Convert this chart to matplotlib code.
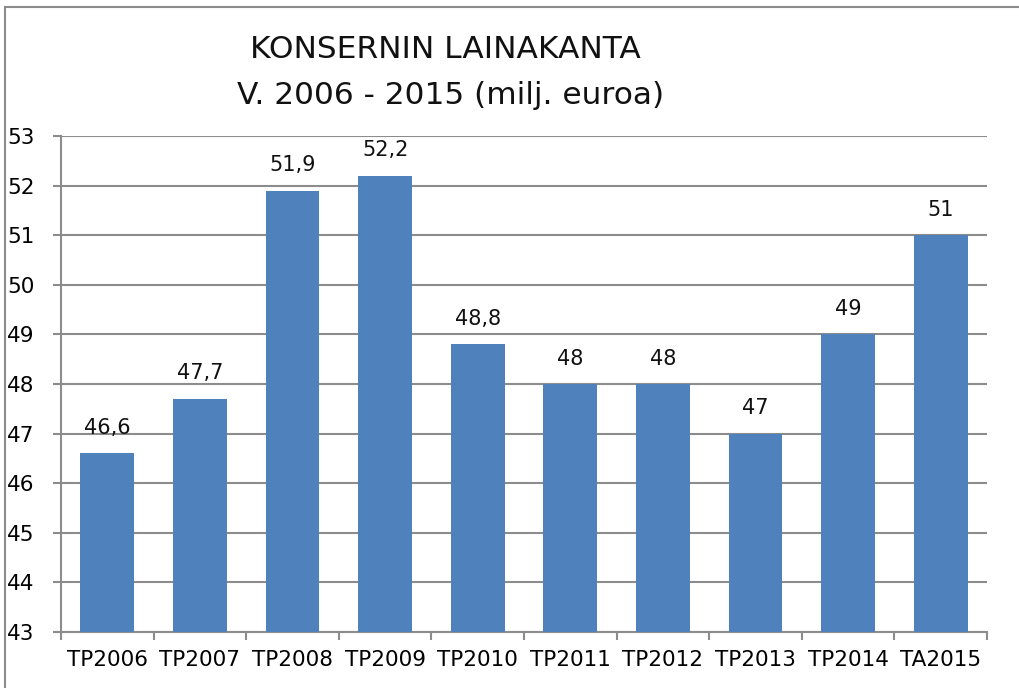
import matplotlib.pyplot as plt
from matplotlib.patches import Rectangle
from matplotlib.ticker import MultipleLocator, FixedLocator

# Data
categories = ['TP2006', 'TP2007', 'TP2008', 'TP2009', 'TP2010',
              'TP2011', 'TP2012', 'TP2013', 'TP2014', 'TA2015']
values = [46.6, 47.7, 51.9, 52.2, 48.8, 48, 48, 47, 49, 51]
labels = ['46,6', '47,7', '51,9', '52,2', '48,8', '48', '48', '47', '49', '51']

fig = plt.figure(figsize=(10.19, 6.88), dpi=100)
ax = fig.add_axes([61 / 1019, 1 - 632 / 688, (987 - 61) / 1019, (632 - 136) / 688])

grey = '#8c8c8c'
x = range(len(categories))
ax.bar(x, [v - 43 for v in values], bottom=43, width=0.58, color='#4F81BD', zorder=3)

for i, (v, lab) in enumerate(zip(values, labels)):
    ax.annotate(lab, (i, v), xytext=(0, 14), textcoords='offset points',
                ha='center', va='baseline', fontsize=15, color='#111111')

ax.set_ylim(43, 53)
ax.set_xlim(-0.5, len(categories) - 0.5)
ax.yaxis.set_major_locator(MultipleLocator(1))
ax.grid(axis='y', color=grey, linewidth=1.5, zorder=0)

ax.set_xticks(list(x))
ax.set_xticklabels(categories)
ax.xaxis.set_minor_locator(FixedLocator([i - 0.5 for i in range(len(categories) + 1)]))
ax.tick_params(axis='x', which='major', length=0, pad=13, labelsize=15.5)
ax.tick_params(axis='x', which='minor', length=6, width=1.5, color=grey, direction='out')
ax.tick_params(axis='y', length=6, width=1.5, color=grey, pad=13, labelsize=15.5)

for s in ['top', 'right']:
    ax.spines[s].set_visible(False)
for s in ['left', 'bottom']:
    ax.spines[s].set_color(grey)
    ax.spines[s].set_linewidth(1.5)

fig.text(445 / 1019, 1 - 50 / 688, 'KONSERNIN LAINAKANTA', ha='center', va='center',
         fontsize=22.5, color='#111111')
fig.text(451 / 1019, 1 - 95 / 688, 'V. 2006 - 2015 (milj. euroa)', ha='center', va='center',
         fontsize=22.5, color='#111111')

# outer chart border
fig.patches.append(Rectangle((5 / 1019, -0.1), 1.2, 1 - 7 / 688 + 0.1,
                             transform=fig.transFigure, fill=False,
                             edgecolor=grey, linewidth=1.5))

plt.savefig('out.png', dpi=100)
